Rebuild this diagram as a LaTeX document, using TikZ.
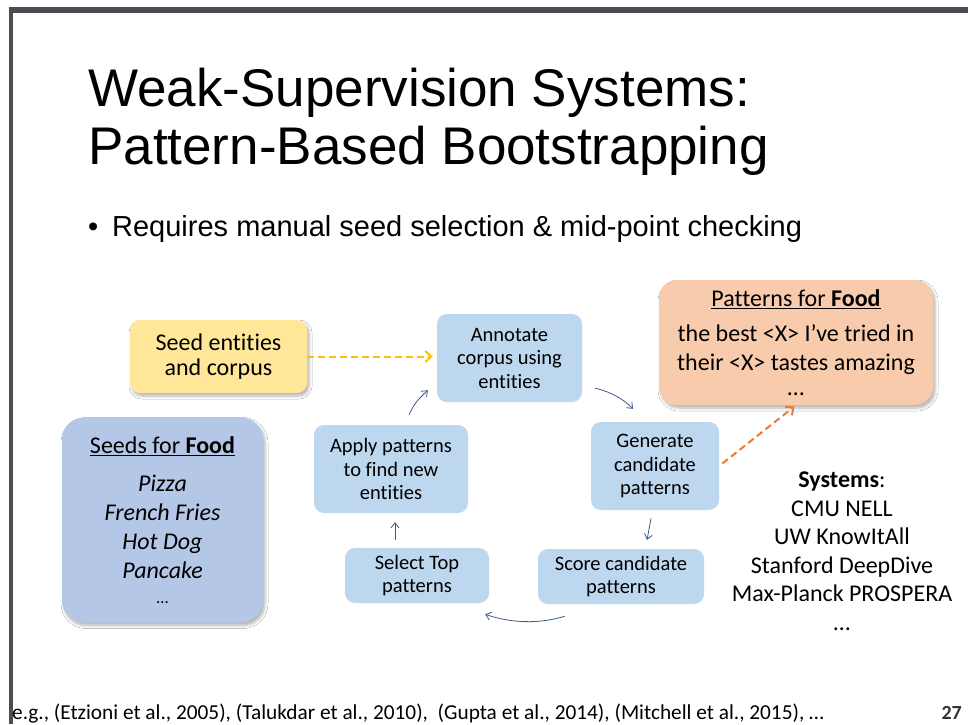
\documentclass[tikz,border=0pt]{standalone}
\usepackage{fontspec}
\setmainfont{Carlito}[Ligatures={NoCommon}]
\newfontfamily\arialf{Liberation Sans}
\usetikzlibrary{arrows.meta,shadows.blur}
\definecolor{framegray}{HTML}{4A4D51}
\definecolor{seedyellow}{HTML}{FFE699}
\definecolor{seedsblue}{HTML}{B4C7E7}
\definecolor{cycfill}{HTML}{BDD7EE}
\definecolor{patorange}{HTML}{F8CBAD}
\definecolor{cycblue}{HTML}{3F5A8C}
\definecolor{dashyellow}{HTML}{FFC000}
\definecolor{dashorange}{HTML}{ED7D31}
\tikzset{
  cycbox/.style={fill=cycfill, rounded corners=10pt, align=center, inner sep=0pt,
    font=\fontsize{20.5}{23.5}\selectfont},
  shadowed/.style={blur shadow={shadow xshift=2pt, shadow yshift=-3pt, shadow blur steps=6, shadow blur radius=3pt, shadow opacity=30}},
  cycarrow/.style={draw=cycblue, line width=0.8pt, -{Straight Barb[length=5pt,width=8pt]}},
  dasharrow/.style={line width=2pt, dash pattern=on 7pt off 4pt, -{Straight Barb[length=6pt,width=11pt,line width=2pt]}}
}
\begin{document}
\begin{tikzpicture}[x=1pt,y=-1pt]
\useasboundingbox (0,0) rectangle (968,724);
\fill[white] (0,0) rectangle (968,724);
\fill[framegray] (9,7) rectangle (968,13);
\fill[framegray] (9,7) rectangle (13,724);

% title and bullet
\node[anchor=base west, inner sep=0pt, font=\arialf\fontsize{53}{58}\selectfont] (title1) at (88,106) {Weak-Supervision Systems:};
\node[anchor=base west, inner sep=0pt, font=\arialf\fontsize{53}{58}\selectfont] (title2) at (88,164) {Pattern-Based Bootstrapping};
\node[anchor=base west, inner sep=0pt, font=\arialf\fontsize{29}{34}\selectfont] (bullet) at (88,236) {\makebox[24pt][l]{•}Requires manual seed selection \& mid-point checking};

% boxes
\node[shadowed, fill=seedyellow, rounded corners=10pt, minimum width=177pt, minimum height=73pt, align=center, inner sep=0pt,
  font=\fontsize{24}{25}\selectfont] (seed) at (218.5,356.5) {Seed entities\\and corpus};

\node[shadowed, fill=seedsblue, rounded corners=22pt, minimum width=201pt, minimum height=205pt, align=center, inner sep=0pt,
  font=\fontsize{24}{29}\selectfont] (seeds) at (162.5,520) {\underline{Seeds for \textbf{Food}}\\[9pt]\textit{Pizza}\\\textit{French Fries}\\\textit{Hot Dog}\\\textit{Pancake}\\[-4pt]{\fontsize{17}{20}\selectfont …}};

\node[shadowed, fill=patorange, rounded corners=18pt, minimum width=274pt, minimum height=125pt, align=center, inner sep=0pt,
  font=\fontsize{24}{29}\selectfont] (pat) at (796,342.5) {\underline{Patterns for \textbf{Food}}\\[6pt]the best <X> I’ve tried in\\their <X> tastes amazing\\[-4pt]…};

\node[cycbox, minimum width=145pt, minimum height=88pt] (annot) at (509.5,358) {Annotate\\corpus using\\entities};
\node[cycbox, minimum width=128pt, minimum height=88pt] (gen) at (655,466) {Generate\\candidate\\patterns};
\node[cycbox, minimum width=166pt, minimum height=55pt] (score) at (621,576.5) {Score candidate\\patterns};
\node[cycbox, minimum width=144pt, minimum height=55pt] (select) at (417,575.5) {Select Top\\patterns};
\node[cycbox, minimum width=154pt, minimum height=88pt] (apply) at (391,469) {Apply patterns\\to find new\\entities};

\node[align=center, inner sep=0pt, font=\fontsize{24}{28.5}\selectfont] (systems) at (842,551) {\textbf{Systems}:\\CMU NELL\\UW KnowItAll\\Stanford DeepDive\\Max-Planck PROSPERA\\…};

% cycle arrows
\coordinate (c1s) at ([shift={(13,-14)}]annot.south east);
\coordinate (c1e) at ([shift={(-22,-13)}]gen.north);
\coordinate (c2s) at ([shift={(-4,8)}]gen.south);
\coordinate (c2e) at ([shift={(26,-9)}]score.north);
\coordinate (c3s) at ([shift={(27,12)}]score.south west);
\coordinate (c3e) at ([shift={(-4,11)}]select.south east);
\coordinate (c4s) at ([shift={(-22,-8)}]select.north);
\coordinate (c4e) at ([shift={(4,9)}]apply.south);
\coordinate (c5s) at ([shift={(18,-10)}]apply.north);
\coordinate (c5e) at ([shift={(-9,-12)}]annot.south west);
\draw[cycarrow] (c1s) .. controls ([shift={(17,4)}]c1s) and ([shift={(-9,-9)}]c1e) .. (c1e);
\draw[cycarrow] (c2s) .. controls ([shift={(-1,10)}]c2s) .. (c2e);
\draw[cycarrow] (c3s) .. controls ([shift={(-25,8)}]c3s) and ([shift={(25,9)}]c3e) .. (c3e);
\draw[cycarrow] (c4s) -- (c4e);
\draw[cycarrow] (c5s) .. controls ([shift={(6,-12)}]c5s) .. (c5e);

% dashed arrows
\draw[dasharrow, draw=dashyellow] (seed.east) -- ([xshift=-4pt]seed.east -| annot.west);
\draw[dasharrow, draw=dashorange, shorten <=4pt, shorten >=2pt] (gen.east) -- (pat.south);

% footer
\node[anchor=base west, inner sep=0pt, font=\fontsize{21.3}{24}\selectfont] (footer) at (12,719) {e.g., (Etzioni et al., 2005), (Talukdar et al., 2010), \ (Gupta et al., 2014), (Mitchell et al., 2015), …};
\node[anchor=base east, inner sep=0pt, font=\bfseries\fontsize{20}{22}\selectfont, text=black!80] (pagenum) at (962,719) {27};
\end{tikzpicture}
\end{document}
